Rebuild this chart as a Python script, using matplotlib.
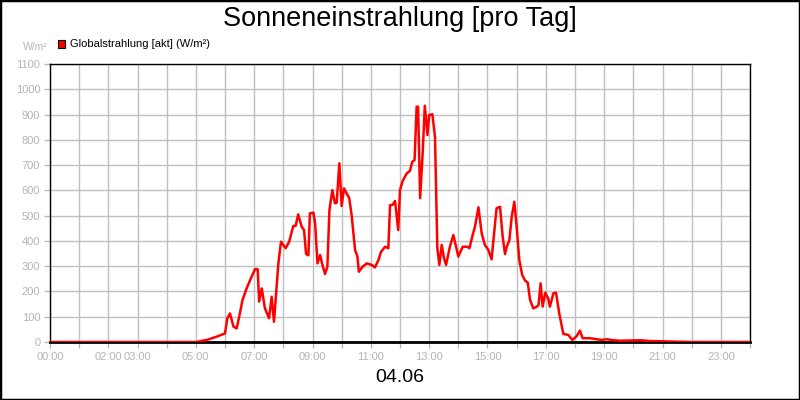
import numpy as np
import matplotlib.pyplot as plt
from matplotlib.patches import Rectangle

plt.rcParams['font.family'] = ['Liberation Sans', 'DejaVu Sans']

# Globalstrahlung (W/m2) over the day, hours
hours = [0.0, 5.0, 5.37, 5.71, 6.0, 6.08, 6.17, 6.29, 6.4, 6.51, 6.6, 6.74, 6.91, 7.03, 7.12,
         7.17, 7.26, 7.37, 7.51, 7.6, 7.68, 7.83, 7.92, 8.08, 8.2, 8.34, 8.42, 8.51, 8.63,
         8.71, 8.78, 8.86, 8.91, 9.03, 9.09, 9.17, 9.26, 9.34, 9.43, 9.51, 9.58, 9.68, 9.77,
         9.83, 9.92, 10.0, 10.08, 10.17, 10.26, 10.34, 10.46, 10.54, 10.59, 10.72, 10.86,
         11.03, 11.14, 11.26, 11.35, 11.49, 11.6, 11.66, 11.74, 11.83, 11.94, 12.0, 12.09,
         12.23, 12.34, 12.42, 12.5, 12.57, 12.62, 12.69, 12.78, 12.85, 12.94, 13.0, 13.11,
         13.2, 13.28, 13.35, 13.43, 13.51, 13.58, 13.71, 13.83, 14.0, 14.15, 14.31, 14.38,
         14.49, 14.57, 14.69, 14.8, 14.91, 15.03, 15.14, 15.31, 15.43, 15.52, 15.6, 15.66,
         15.75, 15.83, 15.92, 16.0, 16.09, 16.19, 16.29, 16.38, 16.46, 16.57, 16.69, 16.75,
         16.82, 16.89, 16.98, 17.08, 17.14, 17.26, 17.35, 17.46, 17.6, 17.77, 17.91, 18.06,
         18.17, 18.26, 18.51, 18.74, 18.91, 19.09, 19.26, 19.54, 20.23, 20.57, 21.36, 22.0, 24.0]
radiation = [0, 0, 8, 21, 34, 94, 113, 61, 54, 113, 166, 212, 258, 288, 288,
             160, 212, 133, 94, 179, 80, 311, 397, 371, 397, 459, 459, 505, 456,
             443, 348, 343, 509, 512, 470, 311, 344, 305, 269, 298, 522, 601, 549,
             551, 707, 538, 608, 588, 569, 503, 364, 338, 278, 298, 311,
             305, 295, 324, 357, 377, 371, 542, 542, 558, 443, 601, 637,
             667, 677, 713, 720, 931, 931, 569, 753, 935, 819, 898, 901,
             812, 371, 305, 384, 331, 305, 377, 423, 338, 377, 377, 371,
             423, 456, 533, 430, 384, 364, 327, 529, 535, 417, 348, 377,
             403, 496, 555, 456, 324, 265, 243, 235, 166, 133, 140, 146,
             232, 140, 195, 173, 140, 193, 195, 113, 32, 28, 8, 24,
             45, 15, 15, 11, 8, 11, 8, 5, 7, 4, 2, 0, 0]

label_hours = [0, 2, 3, 5, 7, 9, 11, 13, 15, 17, 19, 21, 23]
y_ticks = list(range(0, 1200, 100))

fig = plt.figure(figsize=(8, 4), dpi=100)
fig.patch.set_facecolor('white')
fig.add_artist(Rectangle((0, 0), 1, 1, transform=fig.transFigure, fill=False,
                         edgecolor='black', linewidth=2.5))

ax = fig.add_axes([0.0625, 0.145, 0.875, 0.695])
ax.plot(hours, radiation, color='#ff0000', linewidth=1.8, zorder=3)

ax.set_xlim(0, 24)
ax.set_ylim(0, 1100)
ax.set_xticks(range(0, 25))
ax.set_xticklabels(['%02d:00' % h if h in label_hours else '' for h in range(0, 25)])
ax.set_yticks(y_ticks)
ax.grid(True, color='#c0c0c0', linewidth=1)
ax.set_axisbelow(True)
ax.tick_params(colors='#b8b8b8', labelsize=8, length=4, width=1, labelcolor='#b4b4b4', pad=3)
for s in ax.spines.values():
    s.set_color('black')
    s.set_linewidth(1)
ax.spines['bottom'].set_linewidth(2)

fig.text(0.5, 0.952, 'Sonneneinstrahlung [pro Tag]', ha='center', va='center', fontsize=19.5)
fig.text(0.5, 0.057, '04.06', ha='center', va='center', fontsize=14)
fig.text(0.06, 0.882, 'W/m²', ha='right', va='center', fontsize=7.5, color='#b4b4b4')
fig.add_artist(Rectangle((0.0725, 0.88), 0.009, 0.019, transform=fig.transFigure,
                         facecolor='#ff0000', edgecolor='black', linewidth=0.8))
fig.text(0.0875, 0.89, 'Globalstrahlung [akt] (W/m²)', ha='left', va='center', fontsize=8)

fig.savefig('out.png', dpi=100)
